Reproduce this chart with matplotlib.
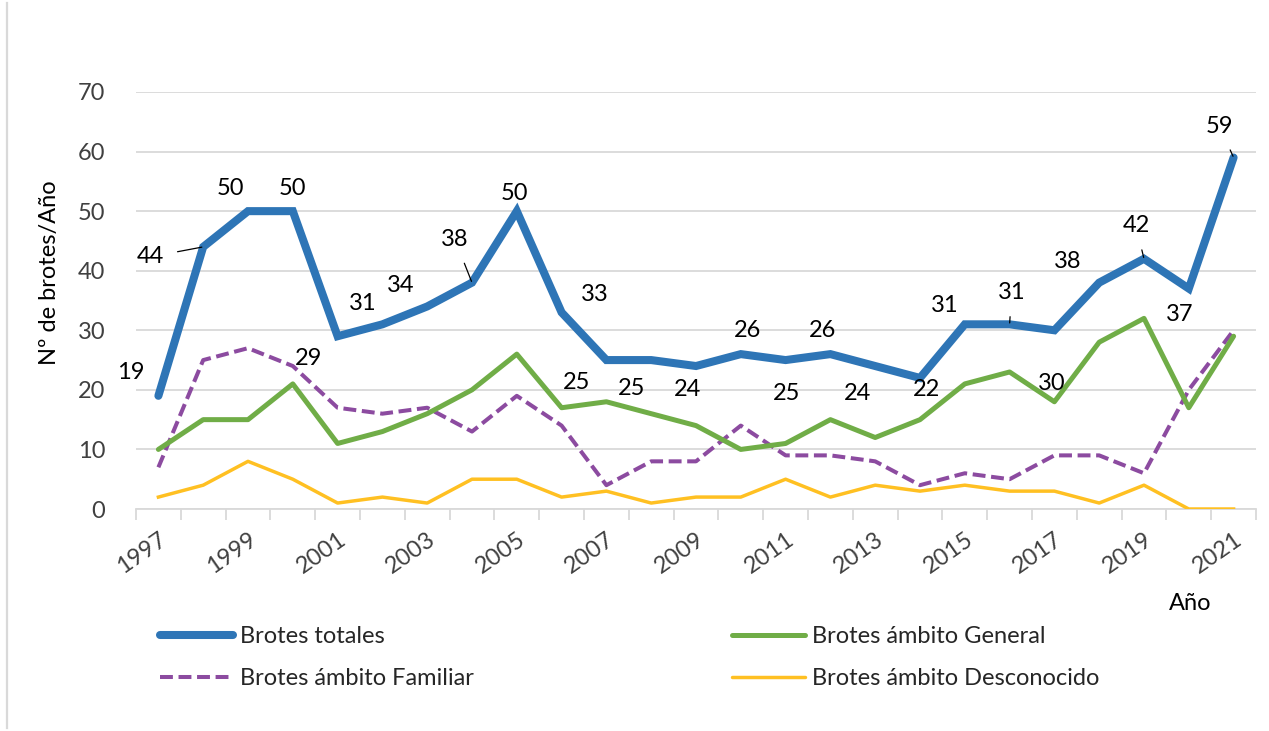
import matplotlib
matplotlib.use("Agg")
import matplotlib.pyplot as plt
from matplotlib.lines import Line2D

plt.rcParams["font.family"] = ["Lato", "DejaVu Sans"]

# ── Datos ─────────────────────────────────────────────────────────────────────
years = list(range(1997, 2022))
totales = [19, 44, 50, 50, 29, 31, 34, 38, 50, 33, 25, 25, 24, 26, 25, 26, 24, 22,
           31, 31, 30, 38, 42, 37, 59]
general = [10, 15, 15, 21, 11, 13, 16, 20, 26, 17, 18, 16, 14, 10, 11, 15, 12, 15,
           21, 23, 18, 28, 32, 17, 29]
familiar = [7, 25, 27, 24, 17, 16, 17, 13, 19, 14, 4, 8, 8, 14, 9, 9, 8, 4,
            6, 5, 9, 9, 6, 20, 30]
desconocido = [2, 4, 8, 5, 1, 2, 1, 5, 5, 2, 3, 1, 2, 2, 5, 2, 4, 3,
               4, 3, 3, 1, 4, 0, 0]
yticks = [0, 10, 20, 30, 40, 50, 60, 70]

# desplazamiento de las etiquetas (píxeles) y si llevan línea guía
lab_off = [(-28, 23), (-53, -10), (-18, 23), (0, 23), (-29, -22), (-20, 21),
           (-27, 21), (-17, 43), (-2, 18), (33, 18), (-30, -22), (-20, -28),
           (-9, -23), (7, 24), (1, -33), (-8, 24), (-18, -27), (6, -12),
           (-20, 19), (2, 32), (-3, -53), (-32, 21), (-8, 33), (-9, -26),
           (-14, 31)]
leader = {1998, 2004, 2016, 2019, 2021}

C_TOT = "#2E75B6"
C_GEN = "#70AD47"
C_FAM = "#8C4BA0"
C_DES = "#FFC022"
C_GRID = "#D9D9D9"
FS = 17
DASH = (3.2, 1.4)

fig = plt.figure(figsize=(12.69, 7.31), dpi=100)
ax = fig.add_axes([136 / 1269, 1 - 509 / 731, 1120 / 1269, 417 / 731])

ax.plot(years, totales, color=C_TOT, lw=5.8, solid_joinstyle="miter",
        solid_capstyle="round", zorder=5)
ax.plot(years, general, color=C_GEN, lw=3.6, solid_capstyle="round", zorder=4)
ax.plot(years, familiar, color=C_FAM, lw=2.9, dashes=DASH, zorder=3)
ax.plot(years, desconocido, color=C_DES, lw=2.5, zorder=3)

for yr, v, (dx, dy) in zip(years, totales, lab_off):
    props = dict(arrowstyle="-", color="black", lw=0.9, shrinkA=8, shrinkB=1) if yr in leader else None
    ax.annotate(str(v), xy=(yr, v), xytext=(dx, dy), textcoords="offset pixels",
                ha="center", va="center", fontsize=FS, color="black",
                arrowprops=props, zorder=6)

ax.set_xlim(1996.5, 2021.5)
ax.set_ylim(0, 70)
ax.set_yticks(yticks)
ax.set_xticks(years[::2])
ax.set_xticks([y - 0.5 for y in years] + [2021.5], minor=True)
ax.tick_params(axis="x", which="major", length=0, pad=14, labelsize=FS,
               labelcolor="#404040", labelrotation=35)
for t in ax.get_xticklabels():
    t.set_ha("right")
    t.set_rotation_mode("anchor")
ax.tick_params(axis="x", which="minor", length=8, width=1.3, color=C_GRID)
ax.tick_params(axis="y", length=0, pad=22, labelsize=FS, labelcolor="#404040")
ax.yaxis.grid(True, color=C_GRID, lw=1.3)
ax.set_axisbelow(True)
for s in ["top", "right", "left"]:
    ax.spines[s].set_visible(False)
ax.spines["bottom"].set_color(C_GRID)
ax.spines["bottom"].set_linewidth(1.3)

fig.text(50 / 1269, 1 - 273 / 731, "Nº de brotes/Año", rotation=90,
         ha="center", va="center", fontsize=FS, color="black")
fig.text(1190 / 1269, 1 - 603 / 731, "Año", ha="center", va="center",
         fontsize=FS, color="black")

# borde izquierdo
fig.add_artist(Line2D([7 / 1269, 7 / 1269], [3 / 731, 1 - 3 / 731],
                      color=C_GRID, lw=1.6))

# ── Leyenda (dos columnas) ────────────────────────────────────────────────────
h_tot = Line2D([], [], color=C_TOT, lw=5.8, solid_capstyle="round")
h_fam = Line2D([], [], color=C_FAM, lw=2.9, dashes=DASH)
h_gen = Line2D([], [], color=C_GEN, lw=3.6, solid_capstyle="round")
h_des = Line2D([], [], color=C_DES, lw=2.5, solid_capstyle="round")
kw = dict(loc="upper left", frameon=False, fontsize=FS, borderpad=0,
          borderaxespad=0, handlelength=3.1, handletextpad=0.3,
          labelspacing=0.88, labelcolor="#262626")
fig.legend([h_tot, h_fam], ["Brotes totales", "Brotes ámbito Familiar"],
           bbox_to_anchor=(160 / 1269, 1 - 626 / 731), **kw)
fig.legend([h_gen, h_des], ["Brotes ámbito General", "Brotes ámbito Desconocido"],
           bbox_to_anchor=(732 / 1269, 1 - 626 / 731), **kw)

fig.savefig("out.png", dpi=100)
